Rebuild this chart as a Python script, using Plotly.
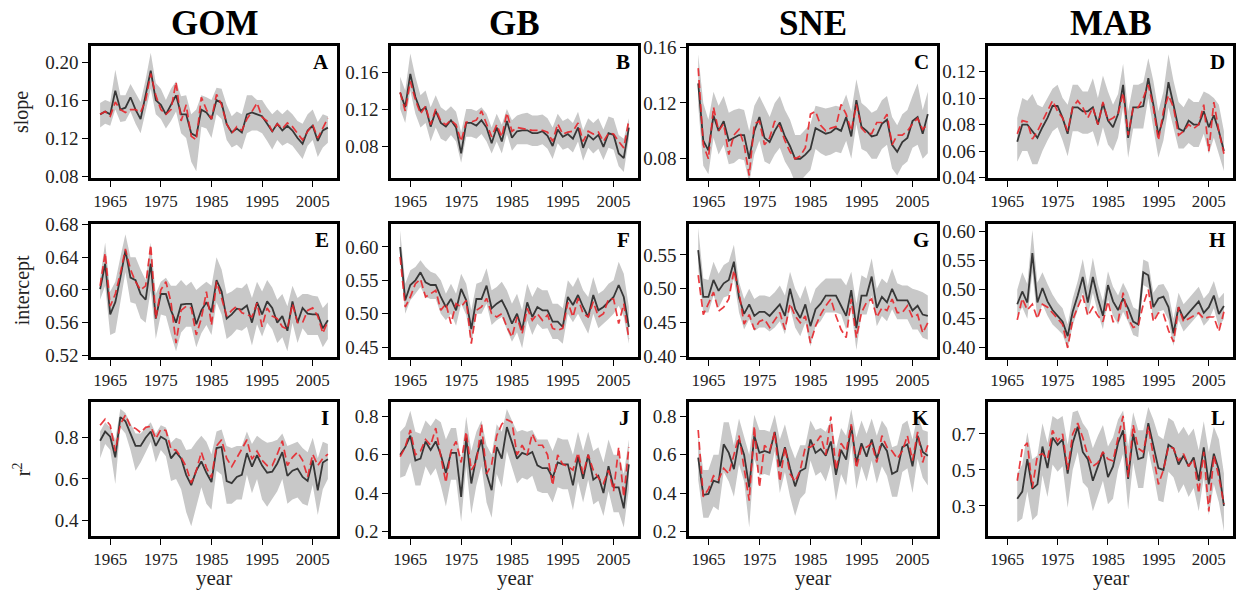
import plotly.graph_objects as go

# ---------------- data ----------------
years = list(range(1963, 2009))        # GOM, GB, SNE
years_mab = list(range(1967, 2009))    # MAB

regions = ["GOM", "GB", "SNE", "MAB"]
row_titles = ["slope", "intercept", "r<sup>2</sup>"]
panel_letters = ["A", "B", "C", "D", "E", "F", "G", "H", "I", "J", "K", "L"]
xtick_years = [1965, 1975, 1985, 1995, 2005]

# --- slope ---
gom_slope_mean = [0.145, 0.148, 0.145, 0.170, 0.150, 0.152, 0.163, 0.150, 0.140, 0.165, 0.191, 0.160, 0.155, 0.145, 0.155, 0.165,
                  0.145, 0.145, 0.125, 0.122, 0.150, 0.147, 0.140, 0.160, 0.157, 0.135, 0.126, 0.130, 0.126, 0.145, 0.147, 0.145,
                  0.143, 0.135, 0.127, 0.135, 0.128, 0.133, 0.128, 0.120, 0.114, 0.128, 0.133, 0.117, 0.128, 0.131]
gom_slope_alt = [0.145, 0.148, 0.143, 0.158, 0.150, 0.147, 0.150, 0.150, 0.147, 0.160, 0.188, 0.165, 0.150, 0.145, 0.150, 0.179,
                 0.138, 0.155, 0.122, 0.118, 0.163, 0.150, 0.140, 0.166, 0.155, 0.135, 0.125, 0.132, 0.128, 0.140, 0.148, 0.157,
                 0.142, 0.138, 0.127, 0.135, 0.130, 0.136, 0.132, 0.125, 0.118, 0.127, 0.134, 0.120, 0.130, 0.141]
gom_slope_hi = [0.157, 0.160, 0.158, 0.192, 0.165, 0.165, 0.177, 0.168, 0.158, 0.182, 0.210, 0.178, 0.172, 0.160, 0.172, 0.180,
                0.164, 0.165, 0.145, 0.150, 0.165, 0.163, 0.160, 0.173, 0.172, 0.155, 0.143, 0.148, 0.145, 0.165, 0.165, 0.160,
                0.160, 0.152, 0.145, 0.150, 0.145, 0.150, 0.145, 0.138, 0.135, 0.145, 0.150, 0.137, 0.145, 0.143]
gom_slope_lo = [0.131, 0.135, 0.133, 0.150, 0.137, 0.138, 0.148, 0.135, 0.125, 0.148, 0.172, 0.145, 0.140, 0.130, 0.138, 0.148,
                0.125, 0.120, 0.095, 0.085, 0.132, 0.130, 0.120, 0.145, 0.140, 0.118, 0.110, 0.113, 0.108, 0.125, 0.128, 0.128,
                0.125, 0.117, 0.108, 0.118, 0.112, 0.115, 0.112, 0.105, 0.098, 0.112, 0.118, 0.100, 0.110, 0.115]

gb_slope_mean = [0.138, 0.122, 0.158, 0.133, 0.118, 0.122, 0.101, 0.118, 0.105, 0.101, 0.108, 0.100, 0.072, 0.105, 0.105, 0.102,
                 0.108, 0.100, 0.083, 0.100, 0.085, 0.107, 0.089, 0.096, 0.097, 0.097, 0.094, 0.094, 0.096, 0.091, 0.080, 0.098,
                 0.090, 0.093, 0.088, 0.100, 0.078, 0.092, 0.087, 0.092, 0.079, 0.094, 0.092, 0.072, 0.067, 0.100]
gb_slope_alt = [0.138, 0.118, 0.150, 0.130, 0.115, 0.123, 0.103, 0.120, 0.107, 0.103, 0.108, 0.103, 0.085, 0.106, 0.106, 0.108,
                0.118, 0.105, 0.090, 0.103, 0.090, 0.116, 0.096, 0.100, 0.099, 0.098, 0.097, 0.097, 0.097, 0.095, 0.085, 0.104,
                0.093, 0.095, 0.096, 0.105, 0.085, 0.096, 0.093, 0.095, 0.085, 0.094, 0.093, 0.085, 0.078, 0.108]
gb_slope_hi = [0.155, 0.140, 0.180, 0.155, 0.135, 0.140, 0.122, 0.135, 0.122, 0.118, 0.123, 0.117, 0.095, 0.120, 0.120, 0.118,
               0.122, 0.115, 0.100, 0.115, 0.103, 0.120, 0.108, 0.113, 0.115, 0.116, 0.113, 0.113, 0.114, 0.110, 0.100, 0.115,
               0.107, 0.110, 0.105, 0.117, 0.097, 0.110, 0.105, 0.110, 0.098, 0.112, 0.110, 0.092, 0.088, 0.110]
gb_slope_lo = [0.120, 0.105, 0.140, 0.115, 0.100, 0.105, 0.085, 0.100, 0.088, 0.085, 0.092, 0.085, 0.062, 0.090, 0.090, 0.088,
               0.093, 0.085, 0.072, 0.085, 0.072, 0.093, 0.075, 0.082, 0.082, 0.082, 0.080, 0.080, 0.082, 0.077, 0.066, 0.083,
               0.076, 0.078, 0.073, 0.085, 0.064, 0.078, 0.072, 0.077, 0.065, 0.078, 0.076, 0.058, 0.052, 0.088]

sne_slope_mean = [0.134, 0.093, 0.086, 0.111, 0.100, 0.107, 0.093, 0.095, 0.097, 0.097, 0.080, 0.100, 0.110, 0.095, 0.092, 0.100,
                  0.106, 0.096, 0.089, 0.080, 0.080, 0.083, 0.087, 0.102, 0.100, 0.098, 0.099, 0.102, 0.100, 0.110, 0.096, 0.122,
                  0.103, 0.100, 0.096, 0.097, 0.105, 0.108, 0.090, 0.085, 0.092, 0.095, 0.107, 0.110, 0.098, 0.112]
sne_slope_alt = [0.145, 0.090, 0.080, 0.117, 0.100, 0.105, 0.083, 0.097, 0.101, 0.090, 0.068, 0.105, 0.107, 0.090, 0.095, 0.107,
                 0.103, 0.093, 0.085, 0.080, 0.082, 0.088, 0.112, 0.114, 0.104, 0.100, 0.102, 0.103, 0.119, 0.112, 0.100, 0.119,
                 0.102, 0.098, 0.098, 0.106, 0.106, 0.112, 0.090, 0.097, 0.097, 0.100, 0.105, 0.109, 0.101, 0.105]
sne_slope_hi = [0.155, 0.120, 0.108, 0.128, 0.118, 0.125, 0.113, 0.115, 0.116, 0.115, 0.100, 0.118, 0.125, 0.118, 0.110, 0.120,
                0.125, 0.115, 0.108, 0.097, 0.097, 0.101, 0.105, 0.118, 0.117, 0.116, 0.117, 0.118, 0.117, 0.126, 0.114, 0.137,
                0.120, 0.117, 0.113, 0.115, 0.122, 0.125, 0.110, 0.104, 0.112, 0.115, 0.125, 0.134, 0.115, 0.128]
sne_slope_lo = [0.118, 0.075, 0.069, 0.095, 0.083, 0.090, 0.076, 0.077, 0.080, 0.079, 0.063, 0.083, 0.093, 0.078, 0.076, 0.083,
                0.088, 0.078, 0.072, 0.063, 0.064, 0.068, 0.072, 0.087, 0.084, 0.082, 0.083, 0.085, 0.084, 0.093, 0.080, 0.105,
                0.087, 0.085, 0.080, 0.080, 0.087, 0.090, 0.073, 0.068, 0.075, 0.078, 0.088, 0.090, 0.080, 0.084]

mab_slope_mean = [0.067, 0.080, 0.080, 0.075, 0.070, 0.078, 0.085, 0.094, 0.094, 0.085, 0.073, 0.093, 0.093, 0.090, 0.090, 0.093,
                  0.080, 0.096, 0.083, 0.078, 0.088, 0.110, 0.070, 0.093, 0.093, 0.094, 0.115, 0.095, 0.072, 0.085, 0.112, 0.095,
                  0.077, 0.075, 0.083, 0.080, 0.080, 0.090, 0.078, 0.087, 0.075, 0.060]
mab_slope_alt = [0.073, 0.083, 0.082, 0.069, 0.075, 0.083, 0.090, 0.098, 0.090, 0.085, 0.075, 0.093, 0.098, 0.093, 0.085, 0.093,
                 0.080, 0.097, 0.083, 0.085, 0.088, 0.104, 0.072, 0.093, 0.093, 0.100, 0.110, 0.093, 0.068, 0.090, 0.102, 0.093,
                 0.072, 0.075, 0.080, 0.077, 0.080, 0.095, 0.060, 0.097, 0.075, 0.058]
mab_slope_hi = [0.085, 0.100, 0.098, 0.103, 0.095, 0.093, 0.100, 0.107, 0.110, 0.100, 0.095, 0.110, 0.110, 0.105, 0.105, 0.115,
                0.100, 0.117, 0.105, 0.095, 0.103, 0.126, 0.090, 0.110, 0.110, 0.112, 0.130, 0.113, 0.090, 0.105, 0.133, 0.113,
                0.097, 0.093, 0.100, 0.097, 0.097, 0.105, 0.103, 0.100, 0.095, 0.075]
mab_slope_lo = [0.052, 0.060, 0.060, 0.050, 0.050, 0.060, 0.068, 0.075, 0.078, 0.068, 0.056, 0.075, 0.075, 0.073, 0.073, 0.075,
                0.063, 0.078, 0.065, 0.060, 0.070, 0.093, 0.055, 0.077, 0.077, 0.077, 0.100, 0.077, 0.055, 0.068, 0.093, 0.077,
                0.062, 0.062, 0.066, 0.063, 0.063, 0.073, 0.058, 0.070, 0.058, 0.045]

# --- intercept ---
gom_int_mean = [0.601, 0.632, 0.570, 0.585, 0.615, 0.648, 0.615, 0.612, 0.595, 0.588, 0.632, 0.565, 0.595, 0.595, 0.575, 0.560,
                0.582, 0.583, 0.583, 0.558, 0.575, 0.585, 0.573, 0.612, 0.598, 0.565, 0.570, 0.577, 0.576, 0.581, 0.560, 0.585,
                0.570, 0.586, 0.578, 0.560, 0.568, 0.550, 0.586, 0.560, 0.578, 0.571, 0.570, 0.570, 0.553, 0.563]
gom_int_alt = [0.605, 0.645, 0.580, 0.595, 0.620, 0.650, 0.625, 0.610, 0.600, 0.605, 0.655, 0.565, 0.600, 0.610, 0.585, 0.535,
               0.575, 0.580, 0.578, 0.545, 0.565, 0.598, 0.557, 0.610, 0.590, 0.568, 0.575, 0.580, 0.572, 0.570, 0.567, 0.584,
               0.555, 0.578, 0.568, 0.565, 0.555, 0.552, 0.583, 0.560, 0.560, 0.575, 0.578, 0.568, 0.547, 0.562]
gom_int_hi = [0.615, 0.658, 0.598, 0.610, 0.640, 0.668, 0.640, 0.640, 0.625, 0.612, 0.658, 0.595, 0.610, 0.615, 0.605, 0.605,
              0.612, 0.605, 0.610, 0.600, 0.605, 0.610, 0.605, 0.640, 0.625, 0.595, 0.598, 0.603, 0.602, 0.608, 0.590, 0.610,
              0.598, 0.612, 0.603, 0.588, 0.595, 0.580, 0.605, 0.590, 0.595, 0.595, 0.593, 0.592, 0.578, 0.585]
gom_int_lo = [0.588, 0.605, 0.545, 0.548, 0.585, 0.622, 0.585, 0.583, 0.565, 0.560, 0.600, 0.540, 0.570, 0.568, 0.545, 0.525,
              0.548, 0.555, 0.555, 0.530, 0.547, 0.557, 0.545, 0.585, 0.570, 0.540, 0.545, 0.552, 0.550, 0.555, 0.532, 0.558,
              0.543, 0.560, 0.552, 0.535, 0.542, 0.525, 0.560, 0.535, 0.553, 0.545, 0.545, 0.545, 0.530, 0.540]

gb_int_mean = [0.600, 0.520, 0.543, 0.550, 0.562, 0.547, 0.543, 0.543, 0.525, 0.510, 0.522, 0.505, 0.537, 0.520, 0.477, 0.522,
               0.522, 0.542, 0.508, 0.515, 0.520, 0.505, 0.485, 0.500, 0.475, 0.517, 0.495, 0.510, 0.505, 0.505, 0.488, 0.488,
               0.480, 0.525, 0.513, 0.528, 0.510, 0.495, 0.528, 0.505, 0.510, 0.518, 0.525, 0.543, 0.525, 0.480]
gb_int_alt = [0.585, 0.510, 0.525, 0.545, 0.552, 0.525, 0.530, 0.535, 0.505, 0.515, 0.485, 0.515, 0.510, 0.520, 0.455, 0.505,
              0.510, 0.523, 0.500, 0.495, 0.500, 0.480, 0.465, 0.495, 0.470, 0.508, 0.490, 0.500, 0.490, 0.498, 0.478, 0.475,
              0.478, 0.517, 0.495, 0.523, 0.500, 0.495, 0.518, 0.495, 0.500, 0.522, 0.522, 0.485, 0.515, 0.462]
gb_int_hi = [0.625, 0.545, 0.565, 0.570, 0.580, 0.570, 0.563, 0.560, 0.550, 0.530, 0.545, 0.530, 0.560, 0.545, 0.505, 0.545,
             0.548, 0.568, 0.535, 0.540, 0.548, 0.535, 0.515, 0.530, 0.505, 0.545, 0.525, 0.540, 0.535, 0.535, 0.515, 0.515,
             0.508, 0.550, 0.540, 0.555, 0.535, 0.525, 0.555, 0.530, 0.535, 0.545, 0.550, 0.578, 0.560, 0.510]
gb_int_lo = [0.580, 0.500, 0.520, 0.530, 0.540, 0.525, 0.522, 0.522, 0.500, 0.490, 0.500, 0.482, 0.515, 0.498, 0.455, 0.500,
             0.500, 0.515, 0.483, 0.490, 0.495, 0.478, 0.458, 0.472, 0.448, 0.490, 0.468, 0.485, 0.477, 0.478, 0.462, 0.462,
             0.455, 0.500, 0.487, 0.500, 0.485, 0.470, 0.500, 0.478, 0.485, 0.492, 0.500, 0.512, 0.495, 0.455]

sne_int_mean = [0.557, 0.488, 0.488, 0.513, 0.497, 0.508, 0.513, 0.540, 0.487, 0.463, 0.477, 0.460, 0.466, 0.466, 0.460, 0.468,
                0.477, 0.460, 0.500, 0.470, 0.457, 0.477, 0.445, 0.470, 0.478, 0.490, 0.490, 0.490, 0.475, 0.460, 0.498, 0.442,
                0.490, 0.490, 0.518, 0.472, 0.488, 0.480, 0.500, 0.483, 0.483, 0.483, 0.468, 0.475, 0.462, 0.460]
sne_int_alt = [0.520, 0.462, 0.478, 0.495, 0.467, 0.473, 0.485, 0.527, 0.495, 0.448, 0.462, 0.440, 0.452, 0.455, 0.443, 0.455,
               0.465, 0.440, 0.478, 0.460, 0.450, 0.460, 0.420, 0.445, 0.462, 0.475, 0.485, 0.460, 0.440, 0.428, 0.485, 0.428,
               0.465, 0.480, 0.485, 0.458, 0.472, 0.468, 0.485, 0.465, 0.465, 0.475, 0.458, 0.462, 0.435, 0.450]
sne_int_hi = [0.590, 0.515, 0.513, 0.540, 0.522, 0.535, 0.540, 0.565, 0.510, 0.485, 0.500, 0.485, 0.490, 0.490, 0.488, 0.495,
              0.505, 0.490, 0.525, 0.500, 0.485, 0.505, 0.478, 0.500, 0.508, 0.515, 0.515, 0.515, 0.515, 0.505, 0.525, 0.478,
              0.520, 0.515, 0.545, 0.500, 0.515, 0.508, 0.530, 0.508, 0.505, 0.505, 0.500, 0.498, 0.495, 0.490]
sne_int_lo = [0.530, 0.465, 0.465, 0.490, 0.472, 0.487, 0.490, 0.515, 0.465, 0.440, 0.455, 0.438, 0.443, 0.443, 0.437, 0.443,
              0.452, 0.433, 0.472, 0.443, 0.430, 0.450, 0.415, 0.445, 0.452, 0.465, 0.465, 0.465, 0.462, 0.440, 0.470, 0.410,
              0.462, 0.462, 0.490, 0.445, 0.460, 0.452, 0.470, 0.455, 0.455, 0.455, 0.440, 0.440, 0.428, 0.425]

mab_int_mean = [0.475, 0.497, 0.478, 0.563, 0.478, 0.503, 0.480, 0.465, 0.455, 0.445, 0.420, 0.462, 0.490, 0.522, 0.478, 0.522,
                0.485, 0.455, 0.508, 0.480, 0.465, 0.485, 0.468, 0.445, 0.440, 0.530, 0.525, 0.470, 0.485, 0.488, 0.470, 0.425,
                0.470, 0.450, 0.460, 0.470, 0.480, 0.460, 0.470, 0.490, 0.458, 0.472]
mab_int_alt = [0.448, 0.485, 0.465, 0.475, 0.450, 0.475, 0.470, 0.460, 0.450, 0.440, 0.400, 0.448, 0.470, 0.490, 0.455, 0.470,
               0.455, 0.445, 0.480, 0.445, 0.445, 0.495, 0.450, 0.435, 0.438, 0.475, 0.500, 0.445, 0.460, 0.458, 0.430, 0.410,
               0.470, 0.445, 0.450, 0.455, 0.460, 0.450, 0.453, 0.453, 0.428, 0.462]
mab_int_hi = [0.500, 0.530, 0.510, 0.603, 0.512, 0.530, 0.510, 0.492, 0.478, 0.468, 0.440, 0.485, 0.515, 0.553, 0.505, 0.555,
              0.510, 0.480, 0.532, 0.505, 0.490, 0.512, 0.495, 0.470, 0.465, 0.552, 0.548, 0.495, 0.508, 0.510, 0.495, 0.450,
              0.495, 0.475, 0.485, 0.495, 0.505, 0.485, 0.495, 0.515, 0.485, 0.495]
mab_int_lo = [0.455, 0.470, 0.450, 0.530, 0.450, 0.475, 0.455, 0.440, 0.432, 0.423, 0.398, 0.438, 0.465, 0.495, 0.455, 0.495,
              0.460, 0.432, 0.483, 0.455, 0.440, 0.462, 0.445, 0.422, 0.418, 0.508, 0.503, 0.448, 0.462, 0.465, 0.448, 0.403,
              0.448, 0.428, 0.438, 0.448, 0.458, 0.438, 0.448, 0.468, 0.435, 0.450]

# --- r squared ---
gom_r2_mean = [0.785, 0.830, 0.805, 0.705, 0.900, 0.880, 0.820, 0.760, 0.760, 0.800, 0.830, 0.760, 0.805, 0.790, 0.700, 0.730,
               0.700, 0.620, 0.570, 0.640, 0.685, 0.630, 0.585, 0.750, 0.755, 0.590, 0.580, 0.610, 0.620, 0.725, 0.660, 0.715,
               0.665, 0.630, 0.635, 0.675, 0.730, 0.615, 0.640, 0.650, 0.610, 0.590, 0.690, 0.545, 0.680, 0.695]
gom_r2_alt = [0.860, 0.890, 0.860, 0.735, 0.865, 0.910, 0.855, 0.845, 0.825, 0.850, 0.855, 0.795, 0.840, 0.835, 0.745, 0.740,
              0.705, 0.660, 0.580, 0.640, 0.730, 0.655, 0.605, 0.760, 0.790, 0.700, 0.660, 0.700, 0.745, 0.790, 0.695, 0.735,
              0.690, 0.665, 0.665, 0.720, 0.785, 0.665, 0.705, 0.730, 0.690, 0.610, 0.720, 0.665, 0.700, 0.720]
gom_r2_hi = [0.830, 0.875, 0.850, 0.790, 0.940, 0.920, 0.870, 0.820, 0.820, 0.850, 0.875, 0.820, 0.860, 0.850, 0.775, 0.800,
             0.790, 0.740, 0.745, 0.780, 0.810, 0.780, 0.720, 0.830, 0.840, 0.760, 0.750, 0.760, 0.760, 0.830, 0.770, 0.810,
             0.790, 0.775, 0.780, 0.790, 0.820, 0.760, 0.770, 0.780, 0.750, 0.730, 0.800, 0.700, 0.780, 0.770]
gom_r2_lo = [0.700, 0.770, 0.740, 0.575, 0.850, 0.820, 0.740, 0.640, 0.680, 0.730, 0.780, 0.680, 0.740, 0.710, 0.590, 0.600,
             0.550, 0.440, 0.370, 0.470, 0.560, 0.480, 0.450, 0.640, 0.620, 0.480, 0.480, 0.500, 0.500, 0.620, 0.530, 0.600,
             0.500, 0.465, 0.500, 0.540, 0.600, 0.480, 0.500, 0.510, 0.480, 0.470, 0.570, 0.425, 0.550, 0.600]

gb_r2_mean = [0.600, 0.640, 0.700, 0.570, 0.580, 0.670, 0.625, 0.670, 0.600, 0.505, 0.610, 0.610, 0.380, 0.690, 0.450, 0.590,
              0.680, 0.500, 0.415, 0.640, 0.580, 0.745, 0.665, 0.580, 0.610, 0.600, 0.615, 0.545, 0.530, 0.530, 0.480, 0.560,
              0.550, 0.550, 0.440, 0.590, 0.475, 0.600, 0.470, 0.490, 0.400, 0.540, 0.430, 0.430, 0.320, 0.550]
gb_r2_alt = [0.590, 0.640, 0.730, 0.600, 0.620, 0.680, 0.650, 0.740, 0.590, 0.455, 0.620, 0.670, 0.560, 0.720, 0.520, 0.560,
             0.760, 0.500, 0.550, 0.700, 0.760, 0.785, 0.770, 0.600, 0.650, 0.600, 0.710, 0.650, 0.650, 0.600, 0.440, 0.600,
             0.550, 0.540, 0.520, 0.610, 0.500, 0.600, 0.520, 0.480, 0.450, 0.520, 0.410, 0.640, 0.380, 0.640]
gb_r2_hi = [0.720, 0.750, 0.830, 0.720, 0.710, 0.780, 0.750, 0.790, 0.770, 0.680, 0.740, 0.740, 0.570, 0.800, 0.620, 0.720,
            0.780, 0.650, 0.600, 0.760, 0.720, 0.840, 0.780, 0.720, 0.730, 0.720, 0.730, 0.680, 0.680, 0.680, 0.620, 0.690,
            0.680, 0.680, 0.600, 0.720, 0.620, 0.720, 0.620, 0.640, 0.560, 0.680, 0.600, 0.600, 0.500, 0.680]
gb_r2_lo = [0.480, 0.490, 0.560, 0.440, 0.440, 0.540, 0.490, 0.530, 0.440, 0.330, 0.470, 0.470, 0.250, 0.540, 0.290, 0.440,
            0.540, 0.350, 0.270, 0.500, 0.430, 0.620, 0.540, 0.450, 0.480, 0.470, 0.490, 0.410, 0.400, 0.400, 0.350, 0.430,
            0.420, 0.420, 0.310, 0.460, 0.350, 0.470, 0.340, 0.360, 0.280, 0.410, 0.300, 0.300, 0.220, 0.420]

sne_r2_mean = [0.585, 0.390, 0.395, 0.465, 0.455, 0.655, 0.610, 0.525, 0.680, 0.600, 0.430, 0.700, 0.610, 0.620, 0.610, 0.720,
               0.540, 0.640, 0.530, 0.435, 0.515, 0.530, 0.680, 0.610, 0.630, 0.595, 0.670, 0.495, 0.625, 0.575, 0.750, 0.560,
               0.660, 0.590, 0.680, 0.580, 0.660, 0.620, 0.500, 0.515, 0.640, 0.655, 0.540, 0.700, 0.615, 0.595]
sne_r2_alt = [0.730, 0.380, 0.420, 0.490, 0.470, 0.530, 0.500, 0.600, 0.700, 0.530, 0.360, 0.750, 0.430, 0.650, 0.620, 0.720,
              0.460, 0.640, 0.500, 0.460, 0.520, 0.640, 0.640, 0.660, 0.700, 0.600, 0.800, 0.520, 0.660, 0.620, 0.760, 0.530,
              0.640, 0.640, 0.660, 0.560, 0.700, 0.640, 0.620, 0.580, 0.620, 0.700, 0.570, 0.720, 0.560, 0.650]
sne_r2_hi = [0.700, 0.520, 0.520, 0.600, 0.600, 0.770, 0.770, 0.650, 0.790, 0.700, 0.600, 0.810, 0.730, 0.730, 0.720, 0.810,
             0.680, 0.760, 0.650, 0.580, 0.650, 0.650, 0.780, 0.730, 0.740, 0.720, 0.780, 0.630, 0.740, 0.700, 0.840, 0.690,
             0.780, 0.710, 0.790, 0.700, 0.780, 0.740, 0.640, 0.650, 0.760, 0.780, 0.680, 0.810, 0.730, 0.720]
sne_r2_lo = [0.470, 0.270, 0.270, 0.330, 0.310, 0.510, 0.460, 0.380, 0.550, 0.460, 0.220, 0.580, 0.490, 0.500, 0.490, 0.620,
             0.400, 0.510, 0.380, 0.280, 0.370, 0.400, 0.570, 0.490, 0.510, 0.460, 0.550, 0.360, 0.500, 0.440, 0.650, 0.420,
             0.540, 0.460, 0.570, 0.450, 0.540, 0.490, 0.380, 0.380, 0.510, 0.530, 0.400, 0.580, 0.480, 0.440]

mab_r2_mean = [0.340, 0.380, 0.560, 0.395, 0.420, 0.630, 0.510, 0.680, 0.640, 0.670, 0.480, 0.650, 0.740, 0.600, 0.560, 0.440,
               0.520, 0.600, 0.460, 0.520, 0.650, 0.720, 0.450, 0.700, 0.560, 0.570, 0.760, 0.640, 0.510, 0.500, 0.640, 0.620,
               0.530, 0.580, 0.520, 0.570, 0.440, 0.625, 0.420, 0.590, 0.500, 0.300]
mab_r2_alt = [0.440, 0.620, 0.650, 0.400, 0.580, 0.590, 0.560, 0.720, 0.660, 0.700, 0.500, 0.700, 0.760, 0.680, 0.580, 0.520,
              0.540, 0.600, 0.560, 0.550, 0.680, 0.800, 0.460, 0.750, 0.620, 0.600, 0.740, 0.570, 0.420, 0.500, 0.630, 0.620,
              0.550, 0.590, 0.520, 0.560, 0.370, 0.600, 0.270, 0.580, 0.460, 0.310]
mab_r2_hi = [0.480, 0.530, 0.710, 0.560, 0.580, 0.760, 0.650, 0.800, 0.780, 0.800, 0.640, 0.820, 0.830, 0.760, 0.720, 0.620,
             0.690, 0.750, 0.630, 0.680, 0.780, 0.830, 0.630, 0.820, 0.720, 0.720, 0.850, 0.780, 0.690, 0.670, 0.790, 0.770,
             0.700, 0.740, 0.690, 0.730, 0.610, 0.770, 0.600, 0.740, 0.670, 0.480]
mab_r2_lo = [0.210, 0.230, 0.380, 0.220, 0.250, 0.470, 0.350, 0.530, 0.490, 0.520, 0.290, 0.500, 0.600, 0.430, 0.400, 0.270,
             0.360, 0.440, 0.310, 0.340, 0.500, 0.590, 0.280, 0.540, 0.400, 0.400, 0.610, 0.480, 0.330, 0.320, 0.490, 0.460,
             0.370, 0.420, 0.350, 0.400, 0.270, 0.460, 0.250, 0.420, 0.320, 0.160]

# y tick values per panel (A..L)
ytick_sets = [
    [0.08, 0.12, 0.16, 0.20], [0.08, 0.12, 0.16], [0.08, 0.12, 0.16], [0.04, 0.06, 0.08, 0.10, 0.12, 0.14],
    [0.52, 0.56, 0.60, 0.64, 0.68], [0.45, 0.50, 0.55, 0.60], [0.40, 0.45, 0.50, 0.55], [0.40, 0.45, 0.50, 0.55, 0.60],
    [0.4, 0.6, 0.8], [0.2, 0.4, 0.6, 0.8], [0.2, 0.4, 0.6, 0.8], [0.3, 0.5, 0.7],
]
ytick_decimals = [2, 2, 2, 2, 2, 2, 2, 2, 1, 1, 1, 1]

# ---------------- layout geometry (pixels) ----------------
W, H = 1237, 599
col_px = [(91, 337), (391, 638), (689, 937), (988, 1233)]
row_px = [(37, 174), (221, 359), (406, 544)]
x_range = [1961.2, 2009.8]
y_ranges = [
    [0.0777, 0.2173], [0.0452, 0.1885], [0.0661, 0.1610], [0.0395, 0.1395],
    [0.518, 0.681], [0.435, 0.635], [0.3995, 0.596], [0.384, 0.614],
    [0.324, 0.971], [0.176, 0.874], [0.176, 0.874], [0.134, 0.875],
]

series = [
    (gom_slope_mean, gom_slope_alt, gom_slope_lo, gom_slope_hi),
    (gb_slope_mean, gb_slope_alt, gb_slope_lo, gb_slope_hi),
    (sne_slope_mean, sne_slope_alt, sne_slope_lo, sne_slope_hi),
    (mab_slope_mean, mab_slope_alt, mab_slope_lo, mab_slope_hi),
    (gom_int_mean, gom_int_alt, gom_int_lo, gom_int_hi),
    (gb_int_mean, gb_int_alt, gb_int_lo, gb_int_hi),
    (sne_int_mean, sne_int_alt, sne_int_lo, sne_int_hi),
    (mab_int_mean, mab_int_alt, mab_int_lo, mab_int_hi),
    (gom_r2_mean, gom_r2_alt, gom_r2_lo, gom_r2_hi),
    (gb_r2_mean, gb_r2_alt, gb_r2_lo, gb_r2_hi),
    (sne_r2_mean, sne_r2_alt, sne_r2_lo, sne_r2_hi),
    (mab_r2_mean, mab_r2_alt, mab_r2_lo, mab_r2_hi),
]

FONT = "Liberation Serif"
BAND = "rgb(200,200,200)"
MEAN_COL = "rgb(55,55,55)"
ALT_COL = "rgb(232,38,44)"

fig = go.Figure()
layout = dict(
    width=W, height=H, margin=dict(l=0, r=0, t=0, b=0),
    paper_bgcolor="white", plot_bgcolor="white", showlegend=False,
    font=dict(family=FONT, color="#222", size=17),
)
annotations = []

for k in range(12):
    r, c = divmod(k, 4)
    xs = years_mab if c == 3 else years
    mean, alt, lo, hi = series[k]
    xa = "x" if k == 0 else f"x{k+1}"
    ya = "y" if k == 0 else f"y{k+1}"

    # uncertainty band as a closed polygon
    fig.add_trace(go.Scatter(
        x=xs + xs[::-1], y=hi + lo[::-1], fill="toself", fillcolor=BAND,
        line=dict(width=0, color=BAND), mode="lines", hoverinfo="skip",
        xaxis=xa, yaxis=ya))
    fig.add_trace(go.Scatter(
        x=xs, y=mean, mode="lines", line=dict(color=MEAN_COL, width=1.8),
        xaxis=xa, yaxis=ya))
    fig.add_trace(go.Scatter(
        x=xs, y=alt, mode="lines", line=dict(color=ALT_COL, width=1.7, dash="8px,4px"),
        opacity=0.9, xaxis=xa, yaxis=ya))

    x0, x1 = col_px[c]
    y0, y1 = row_px[r]
    axis_common = dict(
        showline=True, mirror=True, linewidth=2.5, linecolor="black",
        ticks="outside", ticklen=6, tickwidth=1.3, tickcolor="black",
        showgrid=False, zeroline=False,
    )
    xkey = "xaxis" if k == 0 else f"xaxis{k+1}"
    ykey = "yaxis" if k == 0 else f"yaxis{k+1}"
    layout[xkey] = dict(
        axis_common, domain=[x0 / W, x1 / W], range=x_range,
        tickvals=xtick_years, ticktext=[str(v) for v in xtick_years],
        tickfont=dict(family=FONT, size=17, color="#222"),
        anchor=ya,
    )
    d = ytick_decimals[k]
    layout[ykey] = dict(
        axis_common, domain=[1 - y1 / H, 1 - y0 / H], range=y_ranges[k],
        tickvals=ytick_sets[k], ticktext=[f"{v:.{d}f}" for v in ytick_sets[k]],
        tickfont=dict(family=FONT, size=19, color="#222"),
        anchor=xa,
    )

    # panel letter
    annotations.append(dict(
        xref=f"{xa} domain", yref=f"{ya} domain", x=1, y=1,
        xanchor="right", yanchor="top", xshift=-6, yshift=-2,
        text=f"<b>{panel_letters[k]}</b>", showarrow=False,
        font=dict(family=FONT, size=21, color="black")))

# column headings
for c, name in enumerate(regions):
    x0, x1 = col_px[c]
    annotations.append(dict(
        xref="paper", yref="paper", x=(x0 + x1) / 2 / W, y=1 - 14 / H,
        xanchor="center", yanchor="middle", text=f"<b>{name}</b>",
        showarrow=False, font=dict(family=FONT, size=35, color="black")))

# row titles
for r, title in enumerate(row_titles):
    y0, y1 = row_px[r]
    annotations.append(dict(
        xref="paper", yref="paper", x=22 / W, y=1 - (y0 + y1) / 2 / H,
        xanchor="center", yanchor="middle", text=title, textangle=-90,
        showarrow=False, font=dict(family=FONT, size=20, color="#222")))

# x-axis titles on the bottom row
for c in range(4):
    x0, x1 = col_px[c]
    annotations.append(dict(
        xref="paper", yref="paper", x=(x0 + x1) / 2 / W, y=0,
        xanchor="center", yanchor="bottom", yshift=-3, text="year",
        showarrow=False, font=dict(family=FONT, size=21, color="#222")))

layout["annotations"] = annotations
fig.update_layout(**layout)
fig.write_html("out.html")
